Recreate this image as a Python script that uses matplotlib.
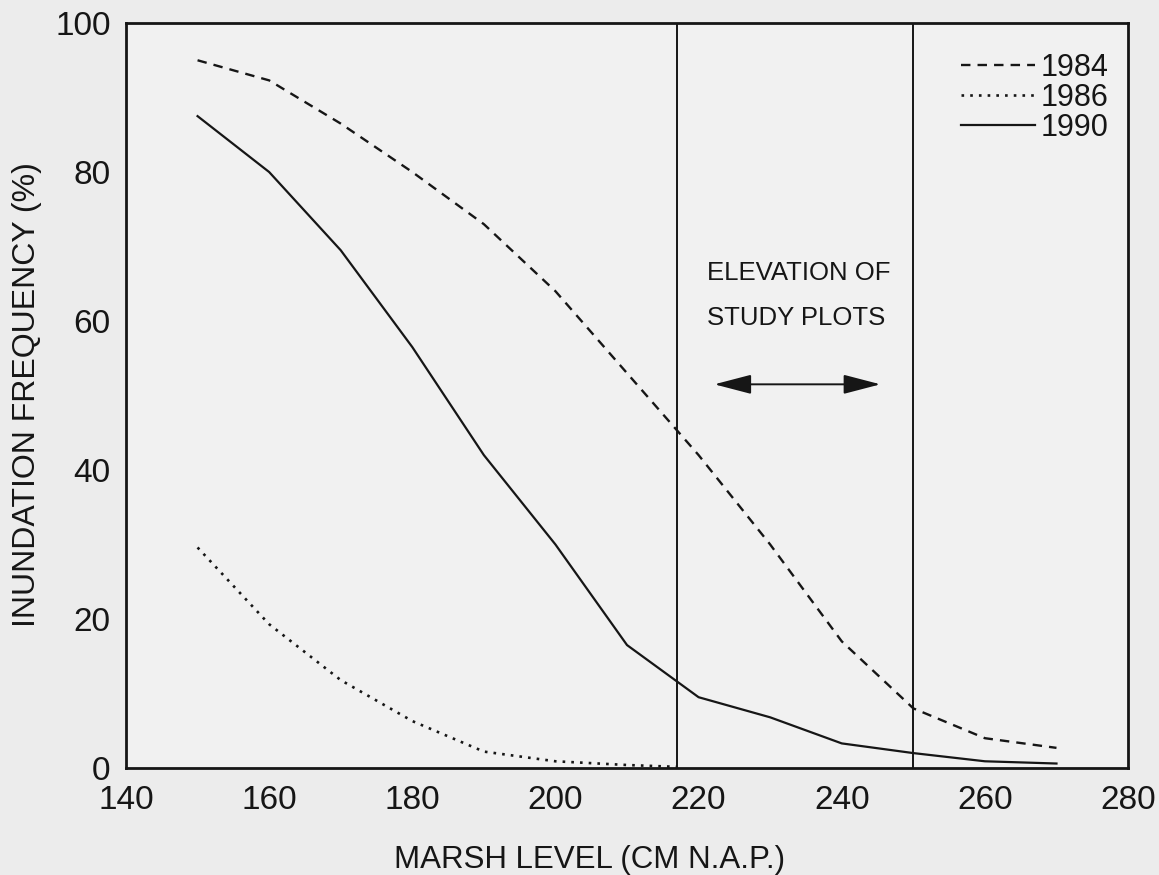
import numpy as np
import matplotlib.pyplot as plt

plt.rcParams['font.family'] = ['Liberation Sans', 'DejaVu Sans']

# marsh level (cm N.A.P.) and inundation frequency (%) per year
level_1984 = [150, 160, 170, 180, 190, 200, 210, 220, 230, 240, 250, 260, 270]
freq_1984 = [95, 92.3, 86.5, 80, 73, 64, 53, 42, 30, 17, 8, 4, 2.7]

level_1986 = [150, 160, 170, 180, 190, 200, 210, 217]
freq_1986 = [29.6, 19.3, 11.8, 6.3, 2.2, 0.9, 0.4, 0.15]

level_1990 = [150, 160, 170, 180, 190, 200, 210, 220, 230, 240, 250, 260, 270]
freq_1990 = [87.5, 80, 69.5, 56.5, 42, 30, 16.5, 9.5, 6.8, 3.3, 2.0, 0.9, 0.6]

study_bounds = [217, 250]
xticks = [140, 160, 180, 200, 220, 240, 260, 280]
yticks = [0, 20, 40, 60, 80, 100]

ink = '#161616'
paper = '#ececec'

fig = plt.figure(figsize=(11.59, 8.75), dpi=100, facecolor=paper)
ax = fig.add_axes([0.1087, 0.1223, 0.8646, 0.8514], facecolor='#f1f1f1')

ax.plot(level_1984, freq_1984, color=ink, lw=1.7, dashes=[4, 3], label='1984')
ax.plot(level_1986, freq_1986, color=ink, lw=1.9, dashes=[1, 2.3], label='1986')
ax.plot(level_1990, freq_1990, color=ink, lw=1.6, label='1990')

for b in study_bounds:
    ax.axvline(b, color=ink, lw=1.4)

ax.text(221.2, 65.5, 'ELEVATION OF', fontsize=18.5, color=ink, va='baseline')
ax.text(221.2, 59.5, 'STUDY PLOTS', fontsize=18.5, color=ink, va='baseline')
ax.annotate('', xy=(222.2, 51.5), xytext=(245.4, 51.5),
            arrowprops=dict(arrowstyle='<|-|>,head_length=1.15,head_width=0.3',
                            mutation_scale=20, color=ink, lw=1.4,
                            shrinkA=0, shrinkB=0))

ax.set_xlim(140, 280)
ax.set_ylim(0, 100)
ax.set_xticks(xticks)
ax.set_yticks(yticks)
ax.tick_params(length=0, labelsize=24, colors=ink)
ax.tick_params(axis='x', pad=12)
ax.tick_params(axis='y', pad=11)
for s in ax.spines.values():
    s.set_linewidth(2.0)
    s.set_color(ink)

# axis titles placed in figure coordinates
fig.text(590 / 1159, 1 - 868 / 875, 'MARSH LEVEL (CM N.A.P.)', fontsize=22.5,
         color=ink, ha='center', va='baseline')
fig.text(27 / 1159, 1 - 395 / 875, 'INUNDATION FREQUENCY (%)', fontsize=23,
         color=ink, ha='center', va='center', rotation=90)

ax.legend(loc='upper right', bbox_to_anchor=(0.996, 0.98), frameon=False,
          fontsize=22, handlelength=2.4, handletextpad=0.2, labelspacing=0.0,
          borderpad=0, labelcolor=ink)

fig.savefig('out.png', dpi=100, facecolor=paper)
